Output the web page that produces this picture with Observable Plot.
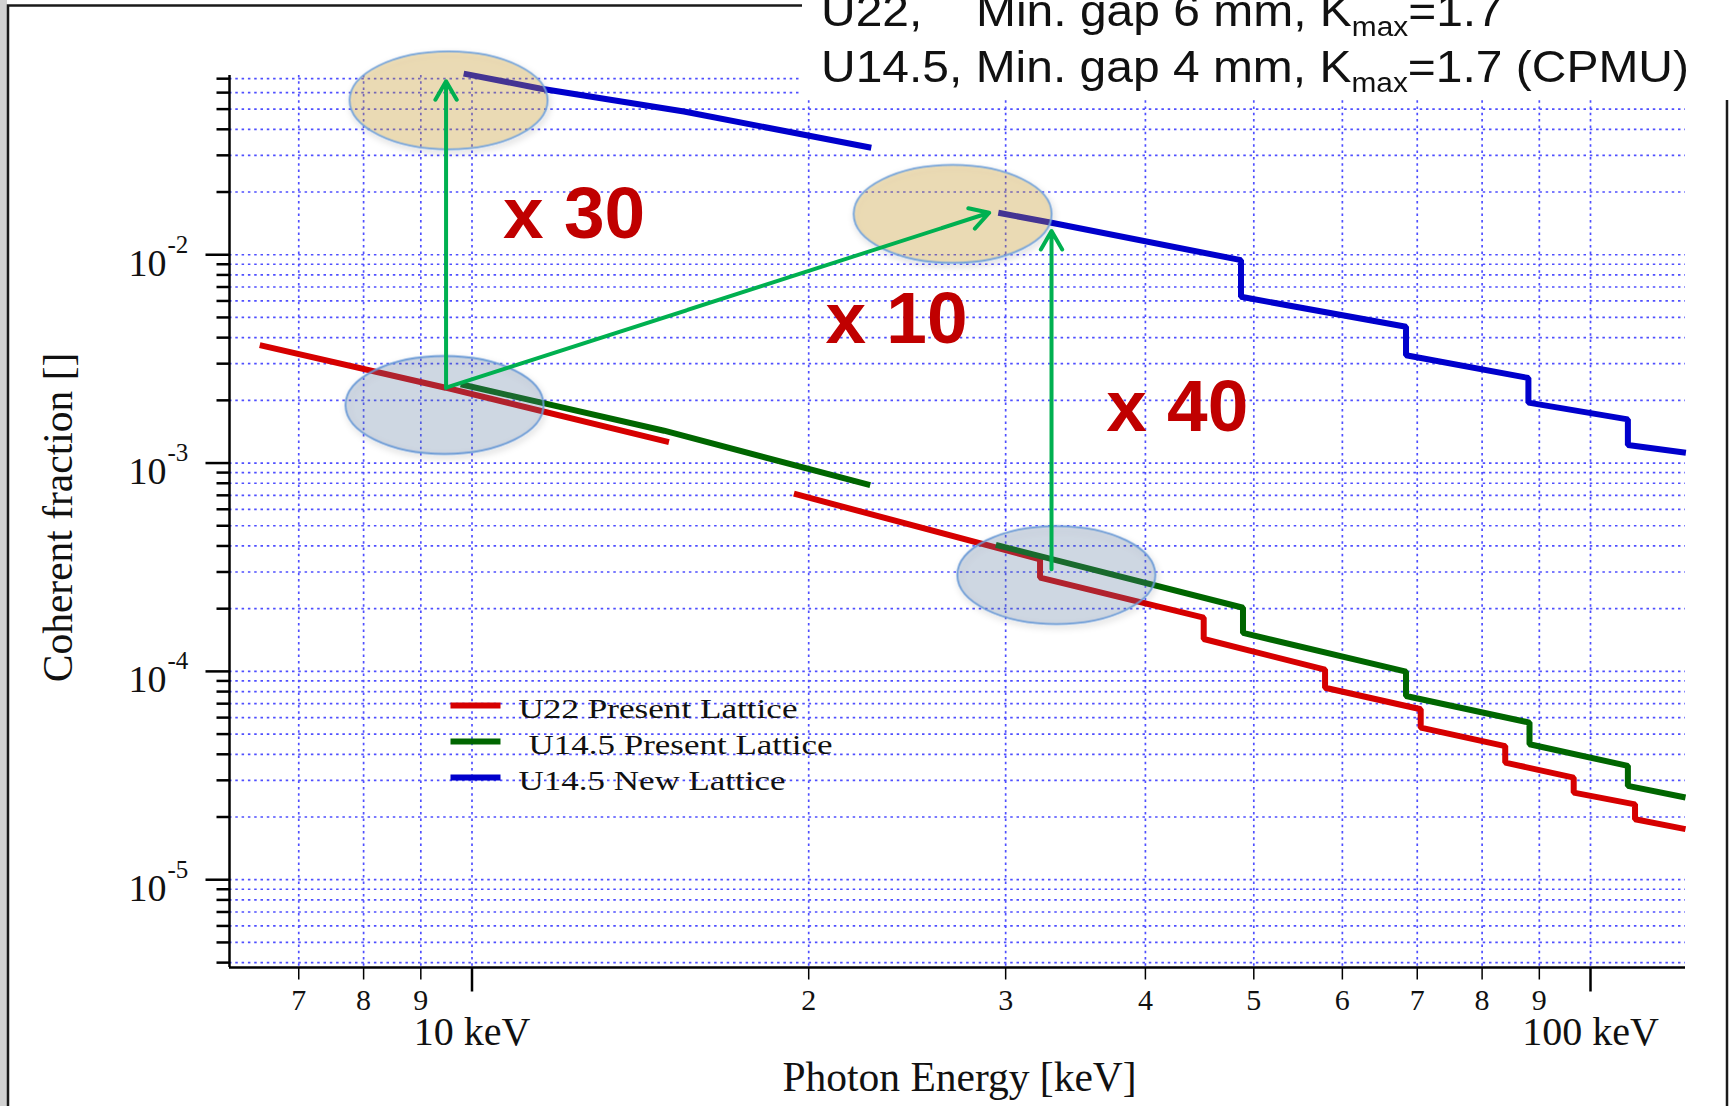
<!DOCTYPE html>
<html>
<head>
<meta charset="utf-8">
<script src="https://cdn.jsdelivr.net/npm/d3@7"></script>
<script src="https://cdn.jsdelivr.net/npm/@observablehq/plot@0.6"></script>
<style>
  body { margin: 0; background: #ffffff; }
  #chart { position: relative; width: 1729px; height: 1106px; overflow: hidden; }
</style>
</head>
<body>
<div id="chart"></div>
<script>
// ---------------- data ----------------
const seriesNames = ["U22 Present Lattice", "U14.5 Present Lattice", "U14.5 New Lattice"];
const seriesColors = ["#d60000", "#006600", "#0000cc"];

// U22, present lattice (red)
const u22Energy   = [6.46, 9.47, 15.0, 19.4, 32.2, 32.2, 45.1, 45.1, 57.9, 57.9, 70.5, 70.5, 83.9, 83.9, 96.6, 96.6, 109.6, 109.6, 121.6];
const u22Coherent = [3.68e-3, 2.30e-3, 1.26e-3, 7.13e-4, 3.45e-4, 2.82e-4, 1.81e-4, 1.43e-4, 1.02e-4, 8.35e-5, 6.58e-5, 5.37e-5, 4.38e-5, 3.65e-5, 3.09e-5, 2.62e-5, 2.30e-5, 1.95e-5, 1.75e-5];
const u22Segment  = [1, 1, 1, 2, 2, 2, 2, 2, 2, 2, 2, 2, 2, 2, 2, 2, 2, 2, 2];

// U14.5, present lattice (green)
const u145pEnergy   = [9.77, 14.85, 22.7, 29.4, 48.9, 48.9, 68.4, 68.4, 88.2, 88.2, 108.0, 108.0, 121.6];
const u145pCoherent = [2.39e-3, 1.43e-3, 7.84e-4, 4.05e-4, 2.02e-4, 1.53e-4, 9.97e-5, 7.62e-5, 5.68e-5, 4.47e-5, 3.52e-5, 2.82e-5, 2.48e-5];
const u145pSegment  = [1, 1, 1, 2, 2, 2, 2, 2, 2, 2, 2, 2, 2];

// U14.5, new lattice (blue)
const u145nEnergy   = [9.83, 11.5, 15.47, 22.75, 29.55, 32.97, 48.7, 48.7, 68.4, 68.4, 88.0, 88.0, 108.0, 108.0, 121.7];
const u145nCoherent = [0.074, 0.0628, 0.0487, 0.0326, 0.0159, 0.01423, 9.42e-3, 6.28e-3, 4.51e-3, 3.29e-3, 2.56e-3, 1.95e-3, 1.62e-3, 1.22e-3, 1.12e-3];
const u145nSegment  = [1, 1, 1, 1, 2, 2, 2, 2, 2, 2, 2, 2, 2, 2, 2];

// axis ticks and labels
const xMajorTicks  = [10, 100];
const xMajorLabels = ["10 keV", "100 keV"];
const xMinorTicks  = [7, 8, 9, 20, 30, 40, 50, 60, 70, 80, 90];
const xMinorLabels = ["7", "8", "9", "2", "3", "4", "5", "6", "7", "8", "9"];
const yMajorTicks  = [1e-5, 1e-4, 1e-3, 1e-2];
const yMajorExps   = ["-5", "-4", "-3", "-2"];
const yMinorTicks  = [4e-6, 5e-6, 6e-6, 7e-6, 8e-6, 9e-6,
                      2e-5, 3e-5, 4e-5, 5e-5, 6e-5, 7e-5, 8e-5, 9e-5,
                      2e-4, 3e-4, 4e-4, 5e-4, 6e-4, 7e-4, 8e-4, 9e-4,
                      2e-3, 3e-3, 4e-3, 5e-3, 6e-3, 7e-3, 8e-3, 9e-3,
                      2e-2, 3e-2, 4e-2, 5e-2, 6e-2, 7e-2];

// annotations
const tanEllipseEnergy   = [9.53, 26.9];
const tanEllipseCoherent = [0.0551, 0.0157];
const greyEllipseEnergy   = [9.45, 33.3];
const greyEllipseCoherent = [1.90e-3, 2.90e-4];

const arrowEnergy1   = [9.48, 9.48, 32.97];
const arrowCoherent1 = [2.30e-3, 2.30e-3, 3.09e-4];
const arrowEnergy2   = [9.48, 29.0, 32.97];
const arrowCoherent2 = [0.068, 0.0159, 0.0130];

const factorText     = ["x 30", "x 10", "x 40"];
const factorEnergy   = [10.66, 20.7, 36.9];
const factorCoherent = [0.0120, 3.77e-3, 1.43e-3];

// ---------------- build table ----------------
function toRows(name, E, C, S) {
  return E.map((e, i) => ({series: name, seg: name + "#" + S[i], E: e, C: C[i]}));
}
const rows = [
  ...toRows(seriesNames[0], u22Energy, u22Coherent, u22Segment),
  ...toRows(seriesNames[1], u145pEnergy, u145pCoherent, u145pSegment),
  ...toRows(seriesNames[2], u145nEnergy, u145nCoherent, u145nSegment)
];

// ---------------- symbols ----------------
function ellipseSymbol(rx, ry) {
  return {draw(ctx) {
    const k = 0.5522847498, ox = rx * k, oy = ry * k;
    ctx.moveTo(-rx, 0);
    ctx.bezierCurveTo(-rx, -oy, -ox, -ry, 0, -ry);
    ctx.bezierCurveTo(ox, -ry, rx, -oy, rx, 0);
    ctx.bezierCurveTo(rx, oy, ox, ry, 0, ry);
    ctx.bezierCurveTo(-ox, ry, -rx, oy, -rx, 0);
    ctx.closePath();
  }};
}
const leftTick = (len) => ({draw(ctx) { ctx.moveTo(-len, 0); ctx.lineTo(0, 0); }});
const downTick = (len) => ({draw(ctx) { ctx.moveTo(0, 0); ctx.lineTo(0, len); }});
const hLine = (half) => ({draw(ctx) { ctx.moveTo(-half, 0); ctx.lineTo(half, 0); }});

const gridColor = "#4f4fff";
const serif = "Liberation Serif, Times New Roman, serif";
const sans = "Liberation Sans, Arial, sans-serif";

const legendMarks = seriesNames.flatMap((name, i) => [
  Plot.dot([name], {frameAnchor: "top-left", dx: 246, dy: 630 + i * 36, symbol: hLine(25), fill: "none", stroke: d => d, strokeWidth: 6}),
  Plot.text([name], {frameAnchor: "top-left", dx: i === 1 ? 299 : 289, dy: 642 + i * 36, text: d => d, textAnchor: "start", lineAnchor: "bottom", fontSize: 28, fontFamily: serif, fill: "#111", className: "legend-text"})
]);

const plot = Plot.plot({
  width: 1729,
  height: 1106,
  marginLeft: 229,
  marginRight: 44,
  marginTop: 75,
  marginBottom: 139,
  style: {background: "transparent", fontFamily: serif, overflow: "visible"},
  x: {type: "log", domain: [6.07, 121.6], axis: null},
  y: {type: "log", domain: [3.79e-6, 0.0725], axis: null},
  color: {domain: seriesNames, range: seriesColors},
  marks: [
    // grid
    Plot.ruleX([...xMinorTicks, ...xMajorTicks], {stroke: gridColor, strokeWidth: 1.7, strokeDasharray: "2.5,3.8"}),
    Plot.ruleY([...yMinorTicks, ...yMajorTicks], {stroke: gridColor, strokeWidth: 1.7, strokeDasharray: "2.5,3.8"}),
    // axis lines
    Plot.ruleX([6.07], {stroke: "#000", strokeWidth: 2.5}),
    Plot.ruleY([3.79e-6], {stroke: "#000", strokeWidth: 2.5}),
    // ticks
    Plot.dot(yMajorTicks, {y: d => d, frameAnchor: "left", symbol: leftTick(24), fill: "none", stroke: "#000", strokeWidth: 2.5}),
    Plot.dot(yMinorTicks, {y: d => d, frameAnchor: "left", symbol: leftTick(13), fill: "none", stroke: "#000", strokeWidth: 2.5}),
    Plot.dot(xMajorTicks, {x: d => d, frameAnchor: "bottom", symbol: downTick(24), fill: "none", stroke: "#000", strokeWidth: 2.5}),
    Plot.dot(xMinorTicks, {x: d => d, frameAnchor: "bottom", symbol: downTick(12), fill: "none", stroke: "#000", strokeWidth: 1.5}),
    // tick labels
    Plot.text(yMajorTicks, {y: d => d, frameAnchor: "left", text: () => "10", textAnchor: "end", lineAnchor: "bottom", dx: -63, dy: 21, fontSize: 38, fill: "#111"}),
    Plot.text(yMajorTicks, {y: d => d, frameAnchor: "left", text: (d, i) => yMajorExps[i], textAnchor: "start", lineAnchor: "bottom", dx: -62, dy: -2, fontSize: 25, fill: "#111"}),
    Plot.text(xMinorTicks, {x: d => d, frameAnchor: "bottom", text: (d, i) => xMinorLabels[i], lineAnchor: "bottom", dy: 42, fontSize: 30, fill: "#111"}),
    Plot.text(xMajorTicks, {x: d => d, frameAnchor: "bottom", text: (d, i) => xMajorLabels[i], lineAnchor: "bottom", dy: 77, fontSize: 40, fill: "#111"}),
    // axis titles
    Plot.text(["Photon Energy [keV]"], {frameAnchor: "bottom", text: d => d, textAnchor: "middle", lineAnchor: "bottom", dy: 123, dx: 2, fontSize: 41.5, fill: "#111"}),
    Plot.text(["Coherent fraction []"], {frameAnchor: "left", text: d => d, textAnchor: "middle", rotate: -90, lineAnchor: "bottom", dx: -158, dy: -4, fontSize: 41.5, fill: "#111"}),
    // data
    Plot.line(rows, {x: "E", y: "C", z: "seg", stroke: "series", strokeWidth: 6, strokeLinejoin: "miter", strokeLinecap: "butt"}),
    // legend
    ...legendMarks,
    // ellipses
    Plot.dot(tanEllipseEnergy, {x: tanEllipseEnergy, y: tanEllipseCoherent, symbol: ellipseSymbol(99, 49), fill: "rgb(210,160,40)", fillOpacity: 0.3, stroke: "#74a3da", strokeWidth: 1.8, className: "ell"}),
    Plot.dot(greyEllipseEnergy, {x: greyEllipseEnergy, y: greyEllipseCoherent, symbol: ellipseSymbol(99, 49), fill: "rgb(95,123,163)", fillOpacity: 0.25, stroke: "#6c9bd6", strokeWidth: 1.8, className: "ell"}),
    // arrows
    Plot.arrow(arrowEnergy1, {x1: arrowEnergy1, y1: arrowCoherent1, x2: arrowEnergy2, y2: arrowCoherent2, stroke: "#00b050", strokeWidth: 4}),
    // factor labels
    Plot.text(factorText, {x: factorEnergy, y: factorCoherent, text: factorText, textAnchor: "start", lineAnchor: "bottom", fontSize: 73, fontWeight: "bold", fontFamily: sans, fill: "#c00000"})
  ]
});

document.getElementById("chart").appendChild(plot);

// ---------------- decorations (frame, header box, legend text width) ----------------
const svg = d3.select(plot);

// legend text widths as in the picture
const legendWidths = [279, 304, 267];
svg.selectAll(".legend-text text").each(function () {
  const i = seriesNames.indexOf(this.textContent);
  if (i >= 0) d3.select(this).attr("textLength", legendWidths[i]).attr("lengthAdjust", "spacingAndGlyphs");
});

// soft shadow under the ellipses
const defs = svg.append("defs");
const f = defs.append("filter").attr("id", "ellShadow").attr("x", "-20%").attr("y", "-20%").attr("width", "140%").attr("height", "150%");
f.append("feDropShadow").attr("dx", 1.5).attr("dy", 3).attr("stdDeviation", 3).attr("flood-color", "#000").attr("flood-opacity", 0.22);
svg.selectAll(".ell").attr("filter", "url(#ellShadow)");

const bg = svg.insert("g", ":first-child");
bg.append("rect").attr("x", 0).attr("y", 0).attr("width", 7).attr("height", 1106).attr("fill", "#d2d2d2");
bg.append("rect").attr("x", 8).attr("y", 5.5).attr("width", 1719).attr("height", 1120)
  .attr("fill", "none").attr("stroke", "#1a1a1a").attr("stroke-width", 2.5);

const head = svg.append("g").attr("text-anchor", "start");
head.append("rect").attr("x", 802).attr("y", 0).attr("width", 927).attr("height", 100).attr("fill", "#ffffff");
function headerLine(g, x, y, pre, post) {
  const t = g.append("text").attr("transform", `translate(${x},${y}) scale(1.066,1)`)
    .attr("text-anchor", "start").attr("font-family", sans).attr("font-size", 45).attr("fill", "#111");
  t.append("tspan").text(pre);
  t.append("tspan").attr("font-size", 28).attr("dy", 10).text("max");
  t.append("tspan").attr("dy", -10).text(post);
}
head.append("text").attr("transform", "translate(821,26) scale(1.066,1)").attr("text-anchor", "start")
  .attr("font-family", sans).attr("font-size", 45).attr("fill", "#111").text("U22,");
headerLine(head, 976, 26, "Min. gap 6 mm, K", "=1.7");
headerLine(head, 821, 82, "U14.5, Min. gap 4 mm, K", "=1.7 (CPMU)");
</script>
</body>
</html>
